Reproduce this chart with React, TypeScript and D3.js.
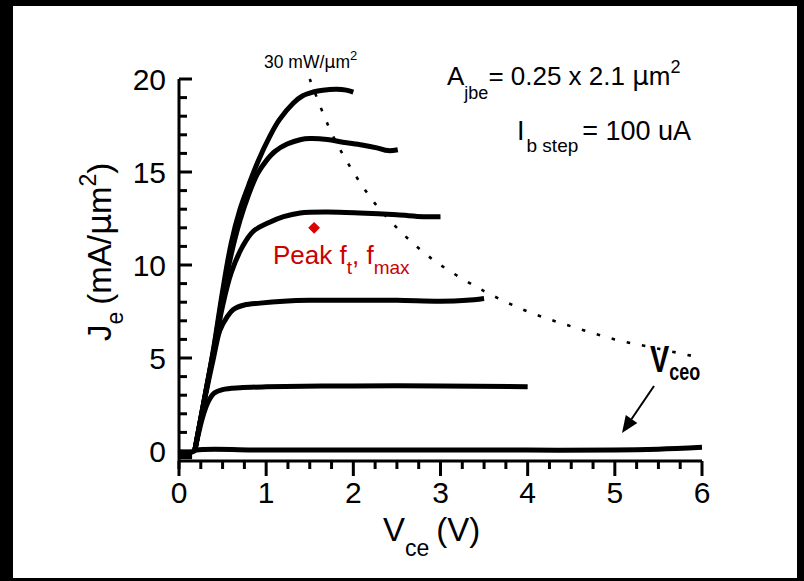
import React from "react";
import * as d3 from "d3";

const W = 804;
const H = 581;

// Data (Vce in V, Je in mA/um^2)
const curveBase: [number, number][] = [
  [0, -0.05], [0.15, -0.05], [0.2, 0.05], [1, 0.05], [2, 0.05], [3, 0.05], [4, 0.05], [5, 0.05], [5.5, 0.1], [6, 0.2],
];
const originBlob: [number, number][] = [[0.0, -0.2], [0.15, -0.2]];
const curve1: [number, number][] = [
  [0.18, 0], [0.3, 3.0], [0.4, 5.6], [0.5, 8.6], [0.6, 11.2], [0.7, 13.0], [0.8, 14.3], [0.9, 15.5], [1.04, 16.9],
  [1.15, 17.8], [1.31, 18.7], [1.42, 19.1], [1.54, 19.3], [1.65, 19.4], [1.81, 19.45], [1.92, 19.4], [2.0, 19.3],
];
const curve2: [number, number][] = [
  [0.18, 0], [0.3, 3.0], [0.4, 5.5], [0.5, 8.3], [0.6, 10.6], [0.7, 12.4], [0.8, 13.8], [0.9, 14.9], [1.0, 15.6],
  [1.1, 16.1], [1.24, 16.5], [1.4, 16.75], [1.5, 16.8], [1.7, 16.75], [1.88, 16.6], [2.1, 16.45], [2.27, 16.3],
  [2.4, 16.15], [2.51, 16.2],
];
const curve3: [number, number][] = [
  [0.18, 0], [0.3, 3.0], [0.4, 5.4], [0.5, 7.8], [0.6, 9.6], [0.73, 11.0], [0.85, 11.8], [1.04, 12.3], [1.2, 12.6],
  [1.39, 12.8], [1.7, 12.85], [2.07, 12.8], [2.5, 12.7], [2.8, 12.6], [3.0, 12.6],
];
const curve4: [number, number][] = [
  [0.18, 0], [0.3, 2.9], [0.4, 5.1], [0.47, 6.5], [0.55, 7.2], [0.62, 7.6], [0.75, 7.85], [0.93, 7.95], [1.2, 8.05],
  [1.5, 8.1], [2.0, 8.1], [2.5, 8.1], [3.0, 8.05], [3.3, 8.1], [3.5, 8.2],
];
const curve5: [number, number][] = [
  [0.18, 0], [0.27, 1.8], [0.33, 2.6], [0.4, 3.1], [0.5, 3.3], [0.7, 3.4], [1.0, 3.45], [2.0, 3.5], [3.0, 3.5], [4.0, 3.45],
];
const powerLine: [number, number][] = [
  [1.5, 20], [1.75, 17.1], [2.0, 15], [2.25, 13.3], [2.5, 12], [2.75, 10.9], [3.0, 10], [3.5, 8.6], [4.0, 7.5],
  [4.5, 6.7], [5.0, 6.0], [5.5, 5.5], [6.0, 5.0],
];
const peakPoint: [number, number] = [1.55, 12.0];
const xTickValues = d3.range(0, 6.001, 0.25);
const xTickLabels = ["0", "1", "2", "3", "4", "5", "6"];
const yTickValues = d3.range(0, 21, 1);
const yTickLabels = ["0", "5", "10", "15", "20"];
const curves = [curveBase, curve1, curve2, curve3, curve4, curve5];

const FONT = "'Liberation Sans', Arial, Helvetica, sans-serif";
const MU = "'DejaVu Sans', sans-serif";

export default function App() {
  const x = d3.scaleLinear().domain([0, 6]).range([179, 702]);
  const y = d3.scaleLinear().domain([0, 20]).range([451, 79]);
  const line = d3
    .line<[number, number]>()
    .x((d) => x(d[0]))
    .y((d) => y(d[1]))
    .curve(d3.curveCatmullRom.alpha(0.5));
  const axisY = 461;
  const diamond = d3.symbol().type(d3.symbolSquare).size(70)();

  // arrow geometry
  const a0 = [654, 386];
  const a1 = [622, 433];
  const ang = Math.atan2(a1[1] - a0[1], a1[0] - a0[0]);
  const hl = 17;
  const hw = 7;
  const bx = a1[0] - hl * Math.cos(ang);
  const by = a1[1] - hl * Math.sin(ang);
  const head = `M${a1[0]},${a1[1]} L${bx + hw * Math.sin(ang)},${by - hw * Math.cos(ang)} L${bx - hw * Math.sin(ang)},${by + hw * Math.cos(ang)} Z`;

  return (
    <div style={{ position: "fixed", left: 0, top: 0 }}>
      <svg width={W} height={H} style={{ display: "block" }} fontFamily={FONT}>
        <rect x={0} y={0} width={W} height={H} fill="#000" />
        <rect x={13} y={6} width={784} height={572} fill="#fff" />

        {/* axes */}
        <line x1={x(0)} x2={x(6)} y1={axisY} y2={axisY} stroke="#000" strokeWidth={3} />
        <line x1={x(0)} x2={x(0)} y1={y(20)} y2={axisY + 8} stroke="#000" strokeWidth={3} />
        {xTickValues.map((v) => {
          const major = Math.abs(v - Math.round(v)) < 1e-6;
          return (
            <line key={"xt" + v} x1={x(v)} x2={x(v)} y1={axisY} y2={axisY + (major ? 15 : 8)} stroke="#000" strokeWidth={3} />
          );
        })}
        {yTickValues.map((v) => {
          const major = v % 5 === 0;
          return (
            <line key={"yt" + v} x1={x(0)} x2={x(0) + (major ? 13 : 8)} y1={y(v)} y2={y(v)} stroke="#000" strokeWidth={3} />
          );
        })}
        {xTickLabels.map((t) => (
          <text key={"xl" + t} x={x(+t)} y={503} fontSize={30} textAnchor="middle" fill="#000">
            {t}
          </text>
        ))}
        {yTickLabels.map((t) => (
          <text key={"yl" + t} x={166} y={y(+t) + 11} fontSize={30} textAnchor="end" fill="#000">
            {t}
          </text>
        ))}

        {/* axis titles */}
        <text x={383} y={541} fontSize={33} fill="#000">
          V<tspan fontSize={23} dy={15}>ce</tspan>
          <tspan fontSize={33} dy={-15} dx={7}>(V)</tspan>
        </text>
        <text transform="translate(111,341) rotate(-90)" fontSize={33} fill="#000">
          J<tspan fontSize={23} dy={12}>e</tspan>
          <tspan fontSize={33} dy={-12} dx={7}>(mA/</tspan>
          <tspan fontSize={33} fontFamily={MU}>μ</tspan>
          <tspan fontSize={33}>m</tspan>
          <tspan fontSize={23} dy={-15}>2</tspan>
          <tspan fontSize={33} dy={15}>)</tspan>
        </text>

        {/* data */}
        <path d={line(powerLine) || ""} fill="none" stroke="#000" strokeWidth={2.6} strokeDasharray="3.5 12" />
        {curves.map((c, i) => (
          <path key={"c" + i} d={line(c) || ""} fill="none" stroke="#000" strokeWidth={5} strokeLinejoin="round" />
        ))}
        <path d={line(originBlob) || ""} fill="none" stroke="#000" strokeWidth={9} />
        <path d={diamond || ""} transform={`translate(${x(peakPoint[0])},${y(peakPoint[1])}) rotate(45)`} fill="#dd0000" />

        {/* annotations */}
        <text x={264} y={68} fontSize={17.5} fill="#000">
          30 mW/<tspan fontFamily={MU}>μ</tspan>m<tspan fontSize={13} dy={-8}>2</tspan>
        </text>
        <text x={447} y={85} fontSize={26} fill="#000">
          A<tspan fontSize={18} dy={14}>jbe</tspan>
          <tspan dy={-14}>= 0.25 x 2.1 </tspan>
          <tspan fontFamily={MU}>μ</tspan>m<tspan fontSize={18} dy={-12}>2</tspan>
        </text>
        <text x={517} y={140} fontSize={27} fill="#000">
          I<tspan fontSize={19} dy={12} dx={2}>b step</tspan>
          <tspan dy={-12} dx={4}>= 100 uA</tspan>
        </text>
        <text x={273} y={264} fontSize={26} fill="#cc0000">
          Peak f<tspan fontSize={19} dy={10}>t</tspan>
          <tspan dy={-10}>, f</tspan>
          <tspan fontSize={19} dy={10}>max</tspan>
        </text>
        <text x={650} y={372} fontSize={37} fontWeight="bold" fill="#000" transform="translate(650,372) scale(0.78,1) translate(-650,-372)">
          V<tspan fontSize={23} dy={8}>ceo</tspan>
        </text>
        <line x1={a0[0]} y1={a0[1]} x2={bx} y2={by} stroke="#000" strokeWidth={2} />
        <path d={head} fill="#000" />
      </svg>
    </div>
  );
}
